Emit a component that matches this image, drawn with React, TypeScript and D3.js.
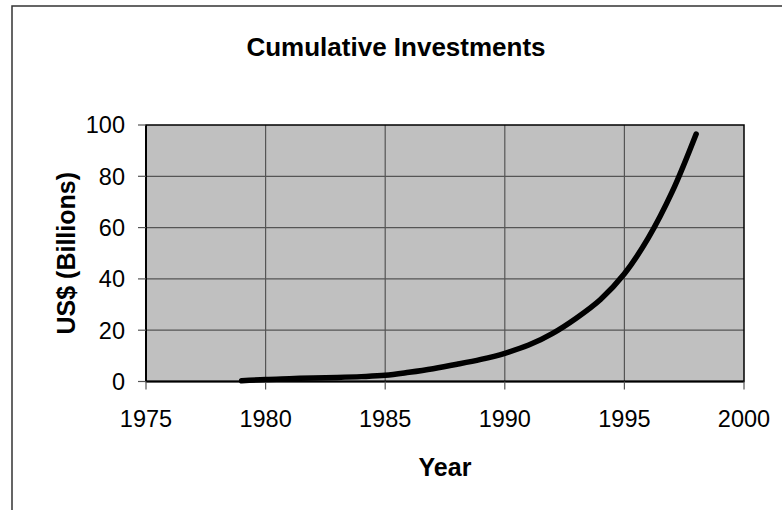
import React from "react";
import * as d3 from "d3";

const years = [1979, 1980, 1981, 1982, 1983, 1984, 1985, 1986, 1987, 1988, 1989, 1990, 1991, 1992, 1993, 1994, 1995, 1996, 1997, 1998];
const investments = [0.3, 0.8, 1.1, 1.4, 1.6, 1.9, 2.4, 3.6, 5.0, 6.7, 8.6, 11, 14.2, 18.8, 24.8, 32, 42, 56, 74, 96.5];
const xTicks = [1975, 1980, 1985, 1990, 1995, 2000];
const yTicks = [0, 20, 40, 60, 80, 100];
const title = "Cumulative Investments";
const xLabel = "Year";
const yLabel = "US$ (Billions)";

export default function App() {
  const W = 782, H = 510;
  const left = 146, right = 744, top = 125, bottom = 381.5;
  const x = d3.scaleLinear().domain([1975, 2000]).range([left, right]);
  const y = d3.scaleLinear().domain([0, 100]).range([bottom, top]);
  const pts = years.map((yr, i) => [yr, investments[i]] as [number, number]);
  const line = d3.line<[number, number]>().x(d => x(d[0])).y(d => y(d[1])).curve(d3.curveCatmullRom.alpha(0.5));
  const font = "'Liberation Sans', Arial, sans-serif";
  return (
    <svg width={W} height={H} style={{ position: "absolute", left: 0, top: 0, background: "#fff" }} fontFamily={font}>
      <rect x={12} y={6} width={W + 10} height={H + 10} fill="#fff" stroke="#333" strokeWidth={1.5} />
      <text x={396} y={56} textAnchor="middle" fontSize={26} fontWeight="bold">{title}</text>
      <rect x={left} y={top} width={right - left} height={bottom - top} fill="#C0C0C0" />
      {xTicks.slice(1, -1).map(t => (
        <line key={"gx" + t} x1={x(t)} x2={x(t)} y1={top} y2={bottom} stroke="#555" strokeWidth={1.2} />
      ))}
      {yTicks.slice(1, -1).map(t => (
        <line key={"gy" + t} x1={left} x2={right} y1={y(t)} y2={y(t)} stroke="#555" strokeWidth={1.2} />
      ))}
      <rect x={left} y={top} width={right - left} height={bottom - top} fill="none" stroke="#000" strokeWidth={1.5} />
      <line x1={left} x2={left} y1={top} y2={bottom} stroke="#000" strokeWidth={2} />
      <line x1={left} x2={right} y1={bottom} y2={bottom} stroke="#000" strokeWidth={2} />
      {yTicks.map(t => (
        <g key={"yt" + t}>
          <line x1={left - 8} x2={left} y1={y(t)} y2={y(t)} stroke="#555" strokeWidth={1.2} />
          <text x={125} y={y(t)} dy="0.36em" textAnchor="end" fontSize={23.5}>{t}</text>
        </g>
      ))}
      {xTicks.map(t => (
        <g key={"xt" + t}>
          <line x1={x(t)} x2={x(t)} y1={bottom} y2={bottom + 8} stroke="#555" strokeWidth={1.2} />
          <text x={x(t)} y={427} textAnchor="middle" fontSize={23.5}>{t}</text>
        </g>
      ))}
      <path d={line(pts) || ""} fill="none" stroke="#000" strokeWidth={5.5} strokeLinecap="round" strokeLinejoin="round" />
      <text x={(left + right) / 2} y={476} textAnchor="middle" fontSize={25} fontWeight="bold">{xLabel}</text>
      <text transform={`translate(75,${(top + bottom) / 2}) rotate(-90)`} textAnchor="middle" fontSize={25} fontWeight="bold">{yLabel}</text>
    </svg>
  );
}
